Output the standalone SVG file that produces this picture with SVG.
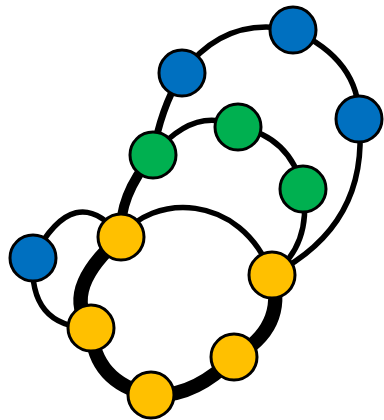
<svg xmlns="http://www.w3.org/2000/svg" width="384" height="420" viewBox="0 0 384 420">
<style>
.e{fill:none;stroke:#000;stroke-linecap:round}
.t{stroke-width:5.5}
.s{stroke-width:7}
.m{stroke-width:10}
.k{stroke-width:14}
.n{stroke:#000;stroke-width:3}
.b{fill:#0070C0}
.g{fill:#00B050}
.y{fill:#FFC000}
</style>
<rect width="384" height="420" fill="#fff"/>
<g id="edges">
<path class="e k" d="M121,237 Q60,290 91,328"/>
<path class="e k" d="M91,328 Q94,383 151,395"/>
<path class="e k" d="M151,395 Q194,398 234,357"/>
<path class="e k" d="M234,357 Q287,328 272,275"/>
<path class="e t" d="M121,237 C150,195 240,190 272,275"/>
<path class="e m" d="M121,237 Q118,196 153,155"/>
<path class="e s" d="M153,155 Q160,110 182,73"/>
<path class="e t" d="M182,73 Q225,15 293,30"/>
<path class="e t" d="M293,30 Q360,60 359,119"/>
<path class="e t" d="M359,119 Q370,225 272,275"/>
<path class="e t" d="M153,155 Q195,105 238,127"/>
<path class="e t" d="M238,127 Q290,136 303,189"/>
<path class="e t" d="M303,189 Q312,245 272,275"/>
<path class="e t" d="M33,258 Q75,178 121,237"/>
<path class="e t" d="M33,258 Q28,327 91,328"/>
</g>
<g id="nB0"><circle class="n b" cx="33" cy="258" r="23"/></g>
<g id="nB1"><circle class="n b" cx="182" cy="73" r="23"/></g>
<g id="nB2"><circle class="n b" cx="293" cy="30" r="23"/></g>
<g id="nB3"><circle class="n b" cx="359" cy="119" r="23"/></g>
<g id="nG1"><circle class="n g" cx="153" cy="155" r="23"/></g>
<g id="nG2"><circle class="n g" cx="238" cy="127" r="23"/></g>
<g id="nG3"><circle class="n g" cx="303" cy="189" r="23"/></g>
<g id="nY1"><circle class="n y" cx="121" cy="237" r="23"/></g>
<g id="nY2"><circle class="n y" cx="272" cy="275" r="23"/></g>
<g id="nY3"><circle class="n y" cx="91" cy="328" r="23"/></g>
<g id="nY4"><circle class="n y" cx="234" cy="357" r="23"/></g>
<g id="nY5"><circle class="n y" cx="151" cy="395" r="23"/></g>
</svg>
